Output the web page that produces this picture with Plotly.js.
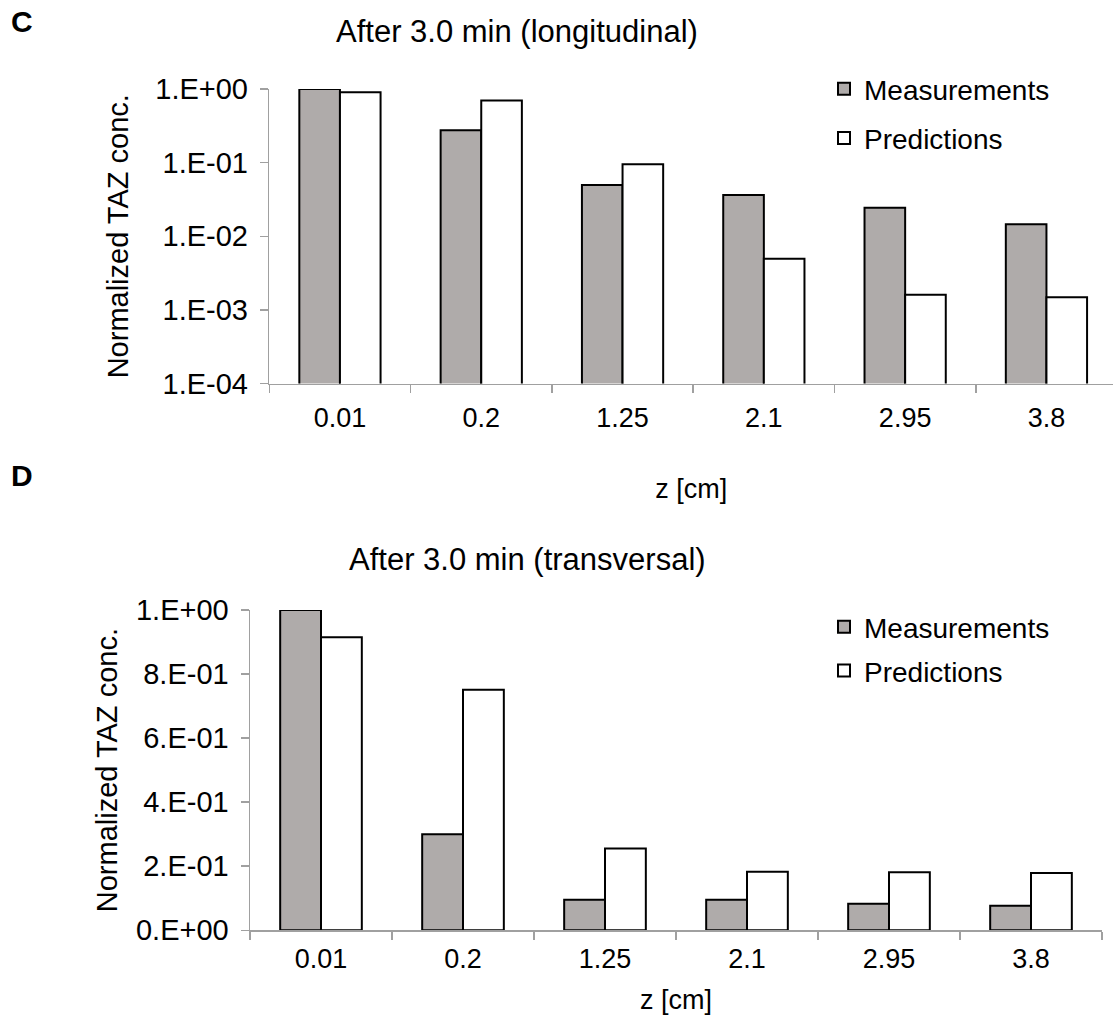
<!DOCTYPE html>
<html>
<head>
<meta charset="utf-8">
<script src="https://cdn.plot.ly/plotly-3.0.1.min.js"></script>
<style>html,body{margin:0;padding:0;background:#fff;}#chart{width:1113px;height:1025px;}</style>
</head>
<body>
<div id="chart"></div>
<script>
// ---- data ----
const categories = ['0.01', '0.2', '1.25', '2.1', '2.95', '3.8'];
const longMeasurements = [1.0, 0.275, 0.0496, 0.0363, 0.0244, 0.0145];
const longPredictions = [0.90, 0.70, 0.095, 0.00495, 0.0016, 0.00148];
const transMeasurements = [1.0, 0.30, 0.0955, 0.0955, 0.083, 0.077];
const transPredictions = [0.915, 0.751, 0.255, 0.183, 0.181, 0.179];
const logTickVals = [0.0001, 0.001, 0.01, 0.1, 1];
const logTickText = ['1.E-04', '1.E-03', '1.E-02', '1.E-01', '1.E+00'];
const linTickVals = [0, 0.2, 0.4, 0.6, 0.8, 1.0];
const linTickText = ['0.E+00', '2.E-01', '4.E-01', '6.E-01', '8.E-01', '1.E+00'];
const seriesNames = ['Measurements', 'Predictions'];
const titleTop = 'After 3.0 min (longitudinal)';
const titleBottom = 'After 3.0 min (transversal)';

// ---- style ----
const FONT = 'Liberation Sans, Arial, Helvetica, sans-serif';
const W = 1113, H = 1025;
const GRAY = '#afabaa';
const AXIS = '#a0a0a0';
const px = v => v / W;
const py = v => 1 - v / H;

const barLine = {color: '#000', width: 2};

const traces = [
  {type: 'bar', x: categories, y: longMeasurements, name: seriesNames[0], xaxis: 'x', yaxis: 'y',
   marker: {color: GRAY, line: barLine}, legend: 'legend', legendgroup: 'm1'},
  {type: 'bar', x: categories, y: longPredictions, name: seriesNames[1], xaxis: 'x', yaxis: 'y',
   marker: {color: '#ffffff', line: barLine}, legend: 'legend', legendgroup: 'p1'},
  {type: 'bar', x: categories, y: transMeasurements, name: seriesNames[0], xaxis: 'x2', yaxis: 'y2',
   marker: {color: GRAY, line: barLine}, legend: 'legend2', legendgroup: 'm2'},
  {type: 'bar', x: categories, y: transPredictions, name: seriesNames[1], xaxis: 'x2', yaxis: 'y2',
   marker: {color: '#ffffff', line: barLine}, legend: 'legend2', legendgroup: 'p2'}
];

const xCommon = {
  type: 'category', showline: true, linecolor: AXIS, linewidth: 1.5,
  ticks: 'outside', tickson: 'boundaries', ticklen: 8, tickcolor: AXIS, tickwidth: 1.5,
  showgrid: false, zeroline: false, fixedrange: true,
  tickfont: {family: FONT, size: 27, color: '#000'}
};
const yCommon = {
  showline: true, linecolor: AXIS, linewidth: 1.5,
  ticks: 'outside', ticklen: 8, tickcolor: AXIS, tickwidth: 1.5,
  showgrid: false, zeroline: false, fixedrange: true,
  tickmode: 'array',
  tickfont: {family: FONT, size: 29, color: '#000'},
  ticklabelstandoff: 6
};

const layout = {
  width: W, height: H,
  margin: {l: 0, r: 0, t: 0, b: 0},
  paper_bgcolor: '#fff', plot_bgcolor: '#fff',
  font: {family: FONT, color: '#000'},
  barmode: 'group', bargap: 0.425, bargroupgap: 0,
  xaxis: Object.assign({}, xCommon, {
    domain: [px(269.3), 1], range: [-0.5, 5.471], anchor: 'y',
    ticklabelstandoff: 10,
    title: {text: 'z [cm]', font: {family: FONT, size: 27, color: '#000'}, standoff: 46}
  }),
  yaxis: Object.assign({}, yCommon, {
    type: 'log', domain: [py(383.5), py(89)], range: [-4, 0], anchor: 'x',
    tickvals: logTickVals, ticktext: logTickText,
    title: {text: 'Normalized TAZ conc.', font: {family: FONT, size: 29, color: '#000'}, standoff: 18}
  }),
  xaxis2: Object.assign({}, xCommon, {
    domain: [px(250), px(1102)], range: [-0.5, 5.5], anchor: 'y2',
    ticklabelstandoff: 4,
    title: {text: 'z [cm]', font: {family: FONT, size: 27, color: '#000'}, standoff: 17}
  }),
  yaxis2: Object.assign({}, yCommon, {
    domain: [py(930.3), py(610)], range: [0, 1], anchor: 'x2',
    tickvals: linTickVals, ticktext: linTickText,
    title: {text: 'Normalized TAZ conc.', font: {family: FONT, size: 29, color: '#000'}, standoff: 10}
  }),
  legend: {
    x: px(824), y: py(64), xanchor: 'left', yanchor: 'top',
    bgcolor: 'rgba(0,0,0,0)', borderwidth: 0, tracegroupgap: 10,
    font: {family: FONT, size: 28, color: '#000'}
  },
  legend2: {
    x: px(824), y: py(602), xanchor: 'left', yanchor: 'top',
    bgcolor: 'rgba(0,0,0,0)', borderwidth: 0, tracegroupgap: 4.5,
    font: {family: FONT, size: 28, color: '#000'}
  },
  annotations: [
    {text: titleTop, x: px(517), y: py(31), xref: 'paper', yref: 'paper', showarrow: false,
     xanchor: 'center', yanchor: 'middle', font: {family: FONT, size: 31, color: '#000'}},
    {text: titleBottom, x: px(527), y: py(559), xref: 'paper', yref: 'paper', showarrow: false,
     xanchor: 'center', yanchor: 'middle', font: {family: FONT, size: 31, color: '#000'}},
    {text: '<b>C</b>', x: px(21.7), y: py(21), xref: 'paper', yref: 'paper', showarrow: false,
     xanchor: 'center', yanchor: 'middle', font: {family: FONT, size: 30, color: '#000'}},
    {text: '<b>D</b>', x: px(22), y: py(476), xref: 'paper', yref: 'paper', showarrow: false,
     xanchor: 'center', yanchor: 'middle', font: {family: FONT, size: 30, color: '#000'}}
  ]
};

Plotly.newPlot('chart', traces, layout, {displayModeBar: false, staticPlot: true});
</script>
</body>
</html>
